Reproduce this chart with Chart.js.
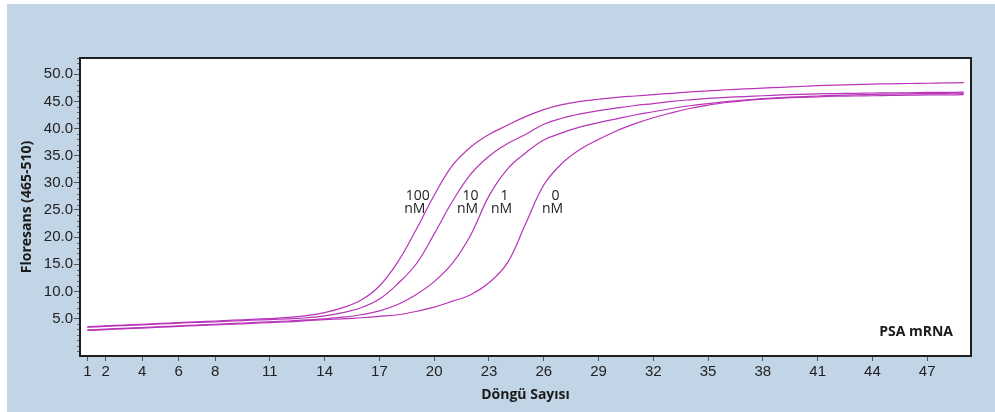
<!DOCTYPE html>
<html>
<head>
<meta charset="utf-8">
<script src="https://cdn.jsdelivr.net/npm/chart.js@4/dist/chart.umd.min.js"></script>
<style>
  html, body { margin: 0; padding: 0; background: #fff; }
  canvas { display: block; }
</style>
</head>
<body>
<canvas id="pcr" width="995" height="412"></canvas>
<script>
// PCR amplification curves
var cycles = [1, 2, 3, 4, 5, 6, 7, 8, 9, 10, 11, 12, 13, 14, 15, 16, 17, 18, 19, 20,
  21, 22, 23, 24, 25, 26, 27, 28, 29, 30, 31, 32, 33, 34, 35, 36, 37, 38, 39, 40,
  41, 42, 43, 44, 45, 46, 47, 48, 49];

var nM100 = [3.5, 3.65, 3.8, 3.95, 4.1, 4.25, 4.4, 4.55, 4.7, 4.85, 5.0, 5.2, 5.55, 6.1, 7.0,
  8.4, 11.0, 15.4, 21.3, 27.7, 33.2, 36.6, 38.9, 40.6, 42.2, 43.5, 44.4, 45.0, 45.4, 45.75,
  46.0, 46.25, 46.5, 46.75, 46.95, 47.15, 47.3, 47.45, 47.6, 47.75, 47.9, 48.0, 48.1, 48.2,
  48.25, 48.3, 48.35, 48.4, 48.45];
var nM10 = [3.4, 3.55, 3.7, 3.85, 4.0, 4.15, 4.3, 4.4, 4.55, 4.7, 4.8, 4.95, 5.15, 5.5, 6.1,
  7.0, 8.6, 11.4, 15.0, 20.6, 26.6, 31.6, 34.9, 37.2, 38.9, 40.8, 41.9, 42.7, 43.3, 43.8,
  44.25, 44.6, 45.0, 45.3, 45.55, 45.75, 45.9, 46.05, 46.2, 46.3, 46.4, 46.45, 46.5, 46.55,
  46.6, 46.6, 46.65, 46.65, 46.7];
var nM1 = [2.9, 3.05, 3.2, 3.35, 3.5, 3.65, 3.8, 3.95, 4.1, 4.25, 4.4, 4.55, 4.75, 4.95, 5.25,
  5.7, 6.4, 7.6, 9.4, 11.8, 15.2, 20.4, 27.6, 32.5, 35.5, 37.9, 39.2, 40.3, 41.1, 41.8,
  42.5, 43.1, 43.7, 44.2, 44.6, 44.95, 45.25, 45.5, 45.7, 45.85, 46.0, 46.1, 46.2, 46.3,
  46.35, 46.4, 46.45, 46.5, 46.5];
var nM0 = [2.8, 2.95, 3.1, 3.25, 3.4, 3.55, 3.7, 3.85, 3.95, 4.1, 4.25, 4.4, 4.6, 4.8, 4.95,
  5.15, 5.4, 5.7, 6.3, 7.1, 8.2, 9.4, 11.6, 15.2, 22.4, 29.6, 33.6, 36.2, 38.0, 39.6,
  40.9, 42.0, 42.9, 43.7, 44.3, 44.8, 45.15, 45.4, 45.6, 45.75, 45.85, 45.95, 46.0, 46.05,
  46.1, 46.15, 46.2, 46.2, 46.25];

var xTicks = [1, 2, 4, 6, 8, 11, 14, 17, 20, 23, 26, 29, 32, 35, 38, 41, 44, 47];
var yTicks = [5, 10, 15, 20, 25, 30, 35, 40, 45, 50];

// curve labels (two lines each) placed in data units
var curveLabels = [['100', 'nM'], ['10', 'nM'], ['1', 'nM'], ['0', 'nM']];
var labelCycles = [18.94, 21.83, 23.69, 26.48];
var labelValue = 26.2;

var lineColor = '#b834b8';
var panelColor = '#c2d5e6';

function toPoints(vals) {
  return cycles.map(function (c, i) { return { x: c, y: vals[i] }; });
}

function curve(label, vals) {
  return {
    label: label,
    data: toPoints(vals),
    borderColor: lineColor,
    borderWidth: 1.2,
    pointRadius: 0,
    fill: false,
    tension: 0.4
  };
}

var decor = {
  id: 'decor',
  beforeDraw: function (chart) {
    var ctx = chart.ctx, a = chart.chartArea;
    ctx.save();
    ctx.fillStyle = '#ffffff';
    ctx.fillRect(0, 0, chart.width, chart.height);
    ctx.fillStyle = panelColor;
    ctx.fillRect(7, 4, chart.width - 7, chart.height - 4);
    ctx.fillStyle = '#ffffff';
    ctx.fillRect(a.left, a.top, a.right - a.left, a.bottom - a.top);
    ctx.restore();
  },
  afterDraw: function (chart) {
    var ctx = chart.ctx, a = chart.chartArea;
    var x = chart.scales.x, y = chart.scales.y;
    ctx.save();
    // minor ticks on the value axis
    ctx.strokeStyle = '#666';
    ctx.lineWidth = 1;
    for (var v = Math.ceil(y.min); v <= Math.floor(y.max); v++) {
      if (yTicks.indexOf(v) >= 0) continue;
      var py = Math.round(y.getPixelForValue(v)) + 0.5;
      ctx.beginPath();
      ctx.moveTo(a.left - 3, py);
      ctx.lineTo(a.left, py);
      ctx.stroke();
    }
    // frame
    ctx.strokeStyle = '#1e1e1e';
    ctx.lineWidth = 2;
    ctx.strokeRect(a.left, a.top, a.right - a.left, a.bottom - a.top);
    // curve labels
    ctx.fillStyle = '#222';
    ctx.font = '14px "Open Sans"';
    ctx.textAlign = 'center';
    ctx.textBaseline = 'middle';
    curveLabels.forEach(function (lines, i) {
      var px = x.getPixelForValue(labelCycles[i]);
      var py = y.getPixelForValue(labelValue);
      ctx.fillText(lines[0], px + 3, py - 7);
      ctx.fillText(lines[1], px, py + 6);
    });
    // assay name
    ctx.font = 'bold 14px "Open Sans"';
    ctx.textAlign = 'right';
    ctx.fillStyle = '#1a1a1a';
    ctx.fillText('PSA mRNA', a.right - 18, a.bottom - 24);
    ctx.restore();
  }
};

new Chart(document.getElementById('pcr'), {
  type: 'line',
  data: {
    datasets: [
      curve('100 nM', nM100),
      curve('10 nM', nM10),
      curve('1 nM', nM1),
      curve('0 nM', nM0)
    ]
  },
  options: {
    responsive: false,
    animation: false,
    devicePixelRatio: 1,
    layout: { padding: { top: 58, right: 24, left: 0, bottom: 0 } },
    plugins: { legend: { display: false }, tooltip: { enabled: false } },
    scales: {
      x: {
        type: 'linear',
        min: 0.6,
        max: 49.4,
        afterBuildTicks: function (s) { s.ticks = xTicks.map(function (v) { return { value: v }; }); },
        afterFit: function (s) { s.height = 56; },
        border: { display: false },
        grid: { drawOnChartArea: false, tickLength: 5, color: '#555' },
        ticks: {
          autoSkip: false, maxRotation: 0, padding: 2,
          color: '#222', font: { family: 'Liberation Sans', size: 15 }
        },
        title: {
          display: true, text: 'Döngü Sayısı', color: '#1a1a1a',
          font: { family: 'Open Sans', size: 14, weight: 'bold' },
          padding: { top: 0, bottom: 8.6 }
        }
      },
      y: {
        min: -1.9,
        max: 53,
        afterBuildTicks: function (s) { s.ticks = yTicks.map(function (v) { return { value: v }; }); },
        afterFit: function (s) { s.width = 80; },
        border: { display: false },
        grid: { drawOnChartArea: false, tickLength: 6, color: '#555' },
        ticks: {
          padding: 1, color: '#222', font: { family: 'Liberation Sans', size: 15 },
          callback: function (v) { return Number(v).toFixed(1); }
        },
        title: {
          display: true, text: 'Floresans (465-510)', color: '#1a1a1a',
          font: { family: 'Open Sans', size: 14, weight: 'bold' },
          padding: { top: 18.6, bottom: 0 }
        }
      }
    }
  },
  plugins: [decor]
});
</script>
</body>
</html>
